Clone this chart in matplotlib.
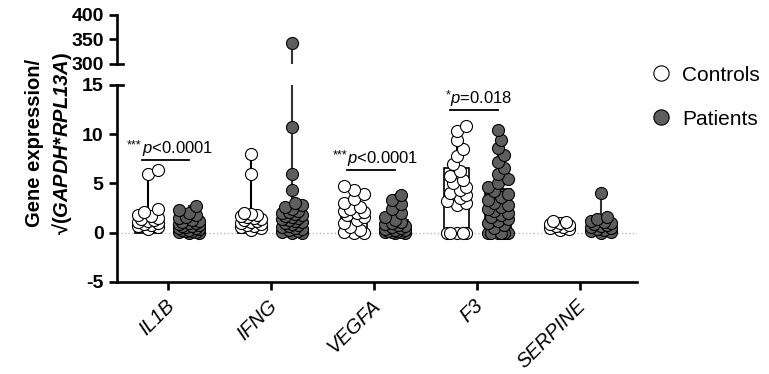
import numpy as np
import matplotlib
import matplotlib.pyplot as plt
import matplotlib.transforms as mtransforms
from matplotlib.lines import Line2D

plt.rcParams['font.family'] = ['Liberation Sans', 'DejaVu Sans']
plt.rcParams['axes.unicode_minus'] = False
plt.rcParams['mathtext.fontset'] = 'custom'
plt.rcParams['mathtext.rm'] = 'Liberation Sans'
plt.rcParams['mathtext.it'] = 'Liberation Sans:italic'
plt.rcParams['mathtext.bf'] = 'Liberation Sans:bold'
plt.rcParams['mathtext.bfit'] = 'Liberation Sans:italic:bold'

genes = ['IL1B', 'IFNG', 'VEGFA', 'F3', 'SERPINE']

# individual values per gene (controls / patients)
ctrl_il1b = [0.4, 0.6, 0.7, 0.8, 0.9, 1.0, 1.1, 1.2, 1.3, 1.4, 1.5, 1.7, 1.8, 2.1, 2.4, 6.0, 6.4]
pat_il1b = [0.0, 0.0, 0.1, 0.1, 0.2, 0.2, 0.3, 0.3, 0.4, 0.5, 0.5, 0.6, 0.7, 0.7, 0.8, 0.9,
            1.0, 1.0, 1.1, 1.2, 1.3, 1.5, 1.6, 1.8, 2.0, 2.3, 2.7]
ctrl_ifng = [0.3, 0.5, 0.6, 0.7, 0.8, 0.9, 1.0, 1.1, 1.2, 1.3, 1.4, 1.5, 1.6, 1.7, 1.8, 1.9, 2.0, 6.0, 8.0]
pat_ifng = [0.0, 0.0, 0.1, 0.2, 0.3, 0.4, 0.5, 0.6, 0.7, 0.8, 0.9, 1.0, 1.1, 1.2, 1.3, 1.4, 1.5,
            1.6, 1.7, 1.8, 1.9, 2.0, 2.1, 2.2, 2.4, 2.6, 2.8, 3.0, 4.3, 6.0, 10.7, 342]
ctrl_vegfa = [0.0, 0.0, 0.1, 0.3, 0.6, 1.0, 1.3, 1.6, 1.8, 2.0, 2.1, 2.2, 2.4, 2.6, 3.0, 3.4, 3.9, 4.3, 4.7]
pat_vegfa = [0.0, 0.0, 0.05, 0.1, 0.1, 0.2, 0.2, 0.3, 0.3, 0.4, 0.5, 0.6, 0.7, 0.8, 0.9, 1.0,
             1.1, 1.3, 1.6, 2.0, 2.4, 2.9, 3.3, 3.8]
ctrl_f3 = [0.0, 0.0, 0.0, 0.0, 0.0, 2.8, 3.0, 3.2, 3.5, 3.8, 4.0, 4.3, 4.6, 5.0, 5.4, 5.8,
           6.3, 7.0, 7.8, 8.5, 9.4, 10.3, 10.8]
pat_f3 = [0.0, 0.0, 0.0, 0.0, 0.0, 0.0, 0.5, 0.8, 1.0, 1.2, 1.4, 1.6, 1.8, 2.0, 2.2, 2.4, 2.6,
          2.8, 3.0, 3.3, 3.6, 3.9, 4.2, 4.6, 5.0, 5.5, 6.0, 6.6, 7.2, 7.9, 8.6, 9.4, 10.4]
ctrl_serpine = [0.3, 0.4, 0.5, 0.6, 0.7, 0.8, 0.9, 1.0, 1.1, 1.2]
pat_serpine = [0.0, 0.1, 0.2, 0.3, 0.4, 0.5, 0.6, 0.7, 0.8, 0.9, 1.0, 1.1, 1.2, 1.4, 1.6, 4.0]

controls = [ctrl_il1b, ctrl_ifng, ctrl_vegfa, ctrl_f3, ctrl_serpine]
patients = [pat_il1b, pat_ifng, pat_vegfa, pat_f3, pat_serpine]

# bar heights
ctrl_bar = [1.4, 1.8, 2.3, 6.6, 0.7]
pat_bar = [0.9, 1.5, 1.3, 4.4, 1.2]

# significance annotations: gene index, star, text, height
sig_idx = [0, 2, 3]
sig_star = ['***', '***', '*']
sig_text = ['<0.0001', '<0.0001', '=0.018']
sig_y = [7.4, 6.4, 12.5]

GRAY = '#5e5e5e'
OFF = 0.2
BARW = 0.25


def swarm(vals, xscale, yscale, d=11.0, maxw=10.0):
    # compact beeswarm offsets in data units (points may overlap a bit)
    vals = np.asarray(vals, float)
    order = np.argsort(vals)
    placed = []
    offs = np.zeros(len(vals))
    steps = [0.0]
    k = 1
    while k * d * 0.3 <= maxw:
        steps += [k * d * 0.3, -k * d * 0.3]
        k += 1
    for i in order:
        y = vals[i] * yscale
        best, bestd = 0.0, -1
        for c in steps:
            md = min([np.hypot(c - px, y - py) for px, py in placed] + [1e9])
            if md >= d * 0.75:
                best = c
                break
            if md > bestd:
                best, bestd = c, md
        placed.append((best, y))
        offs[i] = best / xscale
    return offs


fig = plt.figure(figsize=(7.69, 3.74), dpi=100)
ax_top = fig.add_axes([0.152, 0.829, 0.676, 0.131])
ax = fig.add_axes([0.152, 0.246, 0.676, 0.527])

xlim = (-0.5, 4.55)
xscale = 520 / (xlim[1] - xlim[0])
yscale = 197 / 20.0

for a in (ax, ax_top):
    for i in range(len(genes)):
        for vals, bar, dx, fc, lc in [(controls[i], ctrl_bar[i], -OFF, 'white', 'black'),
                                      (patients[i], pat_bar[i], OFF, GRAY, '#333333')]:
            x = i + dx
            a.bar(x, bar, width=BARW, color=fc, edgecolor='black', linewidth=1.2, zorder=2)
            a.plot([x, x], [bar, max(vals)], color=lc, lw=1.5, zorder=1)
            xs = x + swarm(vals, xscale, yscale)
            a.scatter(xs, vals, s=75, facecolor=fc, edgecolor='black', linewidth=0.8, zorder=3)
    a.set_xlim(*xlim)

TICKFS = 14

# lower axis
ax.set_ylim(-5, 15)
ax.set_yticks([-5, 0, 5, 10, 15])
ax.axhline(0, color='#bbbbbb', lw=1, ls=':', zorder=0)
ax.spines['top'].set_visible(False)
ax.spines['right'].set_visible(False)
for s in ('left', 'bottom'):
    ax.spines[s].set_linewidth(1.9)
ax.set_xticks(range(len(genes)))
ax.set_xticklabels(genes, rotation=45, ha='right', va='center', rotation_mode='anchor',
                   fontsize=14.5, style='italic')
ax.tick_params(axis='both', length=6, width=1.9)
ax.tick_params(axis='x', pad=9)
shift = mtransforms.ScaledTranslation(3 / 100, 0, fig.dpi_scale_trans)
for lab in ax.get_xticklabels():
    lab.set_transform(lab.get_transform() + shift)
for lab in ax.get_yticklabels():
    lab.set_fontweight('bold')
    lab.set_fontsize(TICKFS)
ax.plot([0, 0.012], [1, 1], transform=ax.transAxes, color='black', lw=1.9, clip_on=False)

# upper axis
ax_top.set_ylim(300, 400)
ax_top.set_yticks([300, 350, 400])
for s in ('top', 'right', 'bottom'):
    ax_top.spines[s].set_visible(False)
ax_top.spines['left'].set_linewidth(1.9)
ax_top.set_xticks([])
ax_top.tick_params(axis='y', length=6, width=1.9)
for lab in ax_top.get_yticklabels():
    lab.set_fontweight('bold')
    lab.set_fontsize(TICKFS)
ax_top.plot([0, 0.012], [0, 0], transform=ax_top.transAxes, color='black', lw=1.9, clip_on=False)

# significance
for gi, st, tx, y in zip(sig_idx, sig_star, sig_text, sig_y):
    x0 = gi - OFF - 0.06
    x1 = gi + OFF
    ax.plot([x0, x1], [y, y], color='black', lw=1.3)
    ax.text(x0, y + 0.2, r'$\mathit{p}$' + tx, fontsize=12, ha='left', va='bottom')
    ax.text(x0, y + 0.8, st, fontsize=9, ha='right', va='bottom')

# y label
fig.text(0.045, 0.617, 'Gene expression/', rotation=90, fontsize=14.5, fontweight='bold',
         ha='center', va='center')
fig.text(0.08, 0.617, '√(' + r'$\mathbfit{GAPDH}$' + '*' + r'$\mathbfit{RPL13A}$' + ')',
         rotation=90, fontsize=14.5, fontweight='bold', ha='center', va='center')

# legend
handles = [Line2D([], [], marker='o', ls='', markersize=11, markerfacecolor='white',
                  markeredgecolor='black', markeredgewidth=0.8),
           Line2D([], [], marker='o', ls='', markersize=11, markerfacecolor=GRAY,
                  markeredgecolor='black', markeredgewidth=0.8)]
fig.legend(handles, ['Controls', 'Patients'], loc='center left', bbox_to_anchor=(0.822, 0.74),
           frameon=False, fontsize=15, labelspacing=1.2, handletextpad=0.5, handlelength=1)

fig.savefig('out.png', dpi=100)
